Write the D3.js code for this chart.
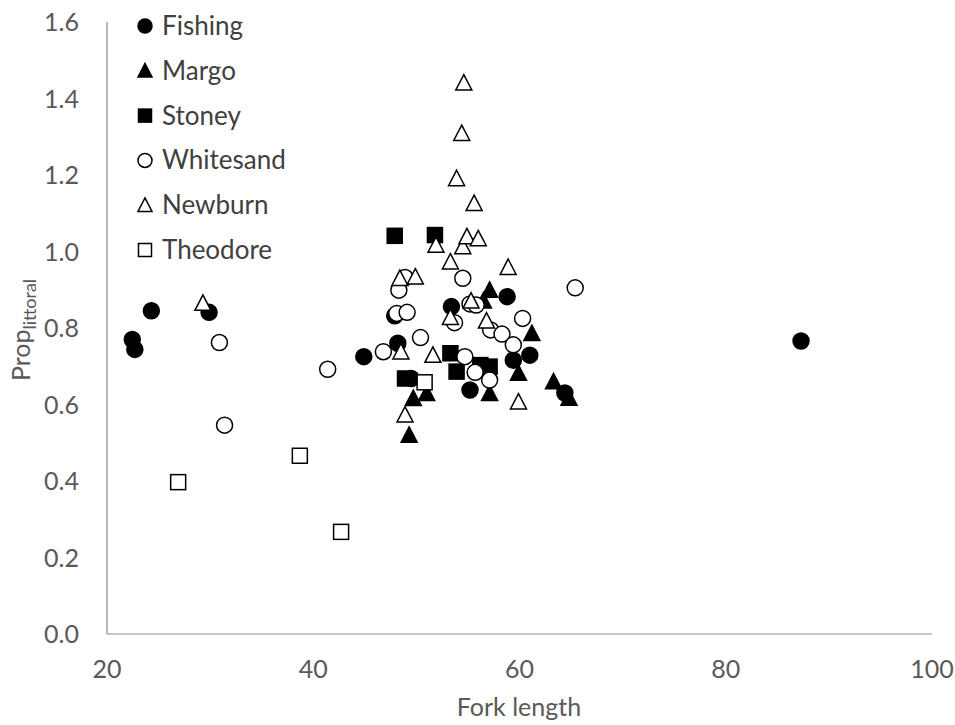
<!DOCTYPE html>
<html>
<head>
<meta charset="utf-8">
<script src="https://cdn.jsdelivr.net/npm/d3@7"></script>
<style>
  html, body { margin: 0; padding: 0; background: #fff; }
  svg { display: block; }
  text { font-family: "Lato", "Open Sans", sans-serif; }
</style>
</head>
<body>
<svg id="chart" width="955" height="725"></svg>
<script>
// ---- Data (Fork length, Prop littoral) ----
const fishing = [
  [22.45,0.770],[22.7,0.744],[24.3,0.845],[29.9,0.841],[44.9,0.725],[48.2,0.760],
  [47.9,0.832],[49.5,0.668],[53.4,0.856],[55.2,0.638],[58.8,0.882],[59.4,0.716],
  [61.0,0.729],[64.4,0.630],[87.3,0.766]
];
const margo = [
  [49.3,0.520],[49.7,0.616],[51.0,0.629],[56.5,0.871],[57.1,0.899],[57.1,0.629],
  [59.9,0.682],[61.2,0.786],[63.3,0.660],[64.8,0.617]
];
const stoney = [
  [47.9,1.041],[51.8,1.043],[53.3,0.734],[53.9,0.686],[48.9,0.668],[56.2,0.703],[57.1,0.699]
];
const whitesand = [
  [30.9,0.762],[31.4,0.546],[41.4,0.692],[46.8,0.738],[48.3,0.899],[48.9,0.932],
  [48.1,0.838],[49.1,0.841],[50.4,0.775],[54.5,0.930],[53.7,0.814],[55.2,0.863],
  [55.8,0.860],[54.7,0.725],[55.7,0.684],[57.1,0.664],[57.2,0.795],[58.3,0.784],
  [59.4,0.756],[60.3,0.825],[65.4,0.905]
];
const newburn = [
  [29.3,0.865],[48.4,0.930],[49.9,0.934],[48.5,0.738],[48.9,0.573],[51.6,0.729],
  [51.9,1.017],[53.3,0.973],[53.3,0.828],[54.5,1.013],[54.9,1.039],[56.0,1.034],
  [55.6,1.126],[53.9,1.191],[54.4,1.309],[54.6,1.441],[55.3,0.871],[56.8,0.819],
  [58.9,0.959],[59.9,0.607]
];
const theodore = [
  [26.9,0.397],[38.7,0.466],[42.7,0.267],[50.8,0.658]
];
const seriesNames = ["Fishing","Margo","Stoney","Whitesand","Newburn","Theodore"];
const xTicks = [20,40,60,80,100];
const yTicks = [0,0.2,0.4,0.6,0.8,1.0,1.2,1.4,1.6];

const series = [
  {name:"Fishing",   data:fishing,   shape:"circle",   fill:"#000"},
  {name:"Margo",     data:margo,     shape:"triangle", fill:"#000"},
  {name:"Stoney",    data:stoney,    shape:"square",   fill:"#000"},
  {name:"Whitesand", data:whitesand, shape:"circle",   fill:"#fff"},
  {name:"Newburn",   data:newburn,   shape:"triangle", fill:"#fff"},
  {name:"Theodore",  data:theodore,  shape:"square",   fill:"#fff"}
];

const svg = d3.select("#chart");
const x = d3.scaleLinear().domain([20,100]).range([107,932]);
const y = d3.scaleLinear().domain([0,1.6]).range([634,22]);

// axes lines
const axisColor = "#8c8c8c";
svg.append("line").attr("x1",x(20)).attr("x2",x(100)).attr("y1",y(0)).attr("y2",y(0))
  .attr("stroke",axisColor).attr("stroke-width",1.2);
svg.append("line").attr("x1",x(20)).attr("x2",x(20)).attr("y1",y(0)).attr("y2",y(1.6))
  .attr("stroke",axisColor).attr("stroke-width",1.2);

// tick labels
const labColor = "#595959";
svg.append("g").selectAll("text").data(xTicks).join("text")
  .attr("x", d => x(d)).attr("y", 678)
  .attr("text-anchor","middle").attr("font-size",25).attr("fill",labColor)
  .text(d => d);
svg.append("g").selectAll("text").data(yTicks).join("text")
  .attr("x", 79).attr("y", d => y(d) + 9)
  .attr("text-anchor","end").attr("font-size",25).attr("fill",labColor)
  .text(d => d3.format(".1f")(d));

// axis titles
svg.append("text").attr("x", 519).attr("y", 716).attr("text-anchor","middle")
  .attr("font-size",25).attr("fill",labColor).text("Fork length");
const yt = svg.append("text").attr("transform","translate(30,330) rotate(-90)")
  .attr("text-anchor","middle").attr("font-size",25).attr("fill",labColor);
yt.append("tspan").text("Prop");
yt.append("tspan").attr("font-size",18).attr("dy",6).text("littoral");

// marker drawing
function drawMarker(g, shape, cx, cy, fill, size) {
  const s = size;
  if (shape === "circle") {
    g.append("circle").attr("cx",cx).attr("cy",cy).attr("r",s/2)
      .attr("fill",fill).attr("stroke","#000").attr("stroke-width",1.5);
  } else if (shape === "square") {
    g.append("rect").attr("x",cx-s/2+0.5).attr("y",cy-s/2+0.5).attr("width",s-1).attr("height",s-1)
      .attr("fill",fill).attr("stroke","#000").attr("stroke-width",1.5);
  } else {
    const h = s*0.9;
    const p = `M${cx},${cy-h/2-1}L${cx+s/2},${cy+h/2}L${cx-s/2},${cy+h/2}Z`;
    g.append("path").attr("d",p)
      .attr("fill",fill).attr("stroke","#000").attr("stroke-width",1.5).attr("stroke-linejoin","miter");
  }
}

const pts = svg.append("g");
series.forEach(s => {
  s.data.forEach(d => drawMarker(pts, s.shape, x(d[0]), y(d[1]), s.fill, 16));
});

// legend
const lg = svg.append("g");
series.forEach((s, i) => {
  const cy = 26 + i*44.8;
  drawMarker(lg, s.shape, 145, cy, s.fill, 14);
  lg.append("text").attr("x",162).attr("y",cy+9).attr("font-size",26)
    .attr("fill","#404040").text(seriesNames[i]);
});
</script>
</body>
</html>
